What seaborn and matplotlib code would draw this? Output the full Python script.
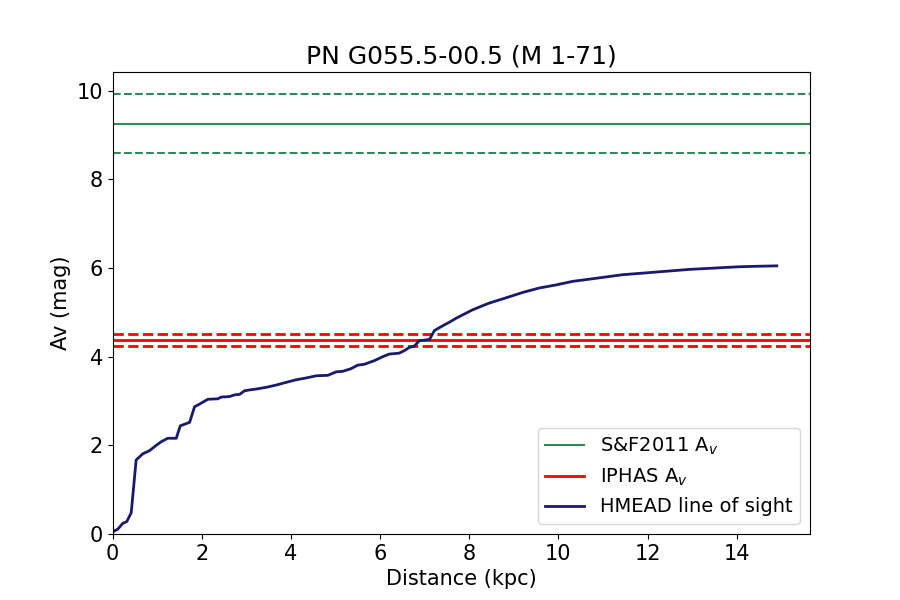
import matplotlib
matplotlib.use("Agg")
import matplotlib.pyplot as plt
import pandas as pd
import seaborn as sns

# HMEAD line of sight
dist_kpc = [0.01, 0.12, 0.23, 0.32, 0.42, 0.53, 0.68, 0.83, 0.98, 1.09, 1.24,
            1.43, 1.52, 1.73, 1.84, 1.95, 2.14, 2.36, 2.44, 2.62, 2.74, 2.85,
            2.96, 3.07, 3.22, 3.45, 3.67, 3.89, 4.12, 4.34, 4.57, 4.83, 5.02,
            5.16, 5.35, 5.5, 5.65, 5.87, 6.06, 6.21, 6.43, 6.55, 6.66, 6.77,
            6.88, 7.11, 7.22, 7.41, 7.56, 7.71, 8.08, 8.45, 8.83, 9.2, 9.57,
            9.95, 10.32, 10.7, 11.07, 11.44, 11.82, 12.19, 12.56, 12.94, 13.31,
            13.68, 14.06, 14.43, 14.9]
av_mag = [0.05, 0.11, 0.24, 0.28, 0.48, 1.67, 1.81, 1.88, 2.0, 2.08, 2.16,
          2.16, 2.44, 2.52, 2.87, 2.93, 3.04, 3.05, 3.09, 3.1, 3.14, 3.15,
          3.23, 3.25, 3.27, 3.31, 3.36, 3.42, 3.48, 3.52, 3.57, 3.58, 3.66,
          3.67, 3.73, 3.81, 3.83, 3.91, 4.0, 4.06, 4.08, 4.14, 4.21, 4.24,
          4.36, 4.39, 4.59, 4.7, 4.78, 4.87, 5.06, 5.21, 5.33, 5.45, 5.55,
          5.62, 5.7, 5.75, 5.8, 5.85, 5.88, 5.91, 5.94, 5.97, 5.99,
          6.01, 6.03, 6.04, 6.05]

sf_av, sf_err = 9.26, 0.67
iphas_av, iphas_err = 4.38, 0.14

df = pd.DataFrame({"Distance (kpc)": dist_kpc, "Av (mag)": av_mag})

fig, ax = plt.subplots(figsize=(9, 6), dpi=100)

ax.axhline(sf_av, color="seagreen", lw=1.5, label="S&F2011 A$_v$")
ax.axhline(sf_av + sf_err, color="seagreen", lw=1.5, ls="--")
ax.axhline(sf_av - sf_err, color="seagreen", lw=1.5, ls="--")

ax.axhline(iphas_av, color="red", lw=2, label="IPHAS A$_v$")
ax.axhline(iphas_av + iphas_err, color="red", lw=2, ls="--")
ax.axhline(iphas_av - iphas_err, color="red", lw=2, ls="--")

sns.lineplot(data=df, x="Distance (kpc)", y="Av (mag)", color="midnightblue",
             lw=2, label="HMEAD line of sight", ax=ax)

ax.set_xlim(left=0)
ax.set_ylim(bottom=0)
ax.set_title("PN G055.5-00.5 (M 1-71)", fontsize=18)
ax.set_xlabel("Distance (kpc)", fontsize=15)
ax.set_ylabel("Av (mag)", fontsize=15)
ax.tick_params(labelsize=15)
ax.legend(loc="lower right", fontsize=14)

plt.savefig("out.png", dpi=100)
